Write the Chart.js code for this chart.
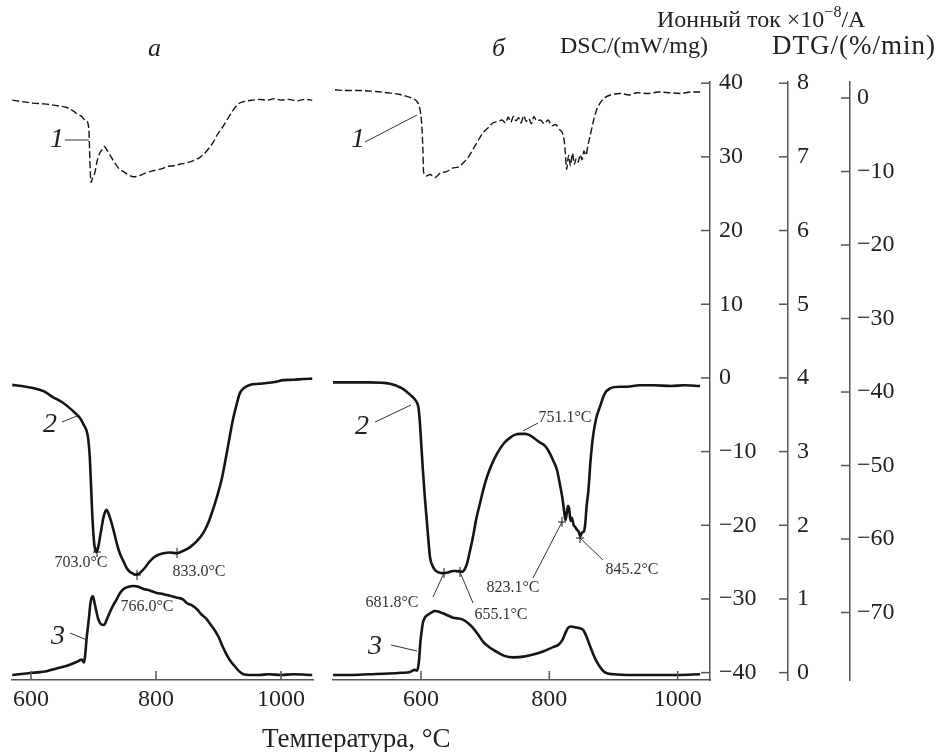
<!DOCTYPE html>
<html lang="ru">
<head>
<meta charset="utf-8">
<title>DSC / DTG / ионный ток</title>
<script src="https://cdn.jsdelivr.net/npm/chart.js@4.4.1/dist/chart.umd.min.js"></script>
<style>
body{margin:0;background:#fff;}
#wrap{position:relative;width:939px;height:752px;font-family:"Liberation Serif","DejaVu Serif",serif;color:#222;overflow:hidden;}
#wrap canvas{position:absolute;left:0;top:0;}
.lbl{position:absolute;white-space:nowrap;line-height:1;}
.it{font-style:italic;}
sup{font-size:16px;position:relative;top:-3px;vertical-align:top;}
</style>
</head>
<body>
<div id="wrap">
  <canvas id="panelA" width="939" height="752"></canvas>
  <canvas id="panelB" width="939" height="752"></canvas>

  <div class="lbl" style="left:657px;top:7px;font-size:24px;">Ионный ток ×10<sup>−8</sup>/A</div>
  <div class="lbl" style="right:231px;top:33px;font-size:24px;">DSC/(mW/mg)</div>
  <div class="lbl" style="right:3px;top:32px;font-size:27px;letter-spacing:1px;">DTG/(%/min)</div>
  <div class="lbl it" style="left:148px;top:35px;font-size:26px;">а</div>
  <div class="lbl it" style="left:492px;top:35px;font-size:26px;">б</div>
  <div class="lbl" style="left:262px;top:725px;font-size:27px;">Температура, °C</div>
</div>

<script>
// ---- ticks ----
var tickX = [600, 800, 1000];
var tickDsc = [-40, -30, -20, -10, 0, 10, 20, 30, 40];
var labelDsc = ['−40', '−30', '−20', '−10', '0', '10', '20', '30', '40'];
var tickIon = [0, 1, 2, 3, 4, 5, 6, 7, 8];
var labelIon = ['0', '1', '2', '3', '4', '5', '6', '7', '8'];
var tickDtg = [-70, -60, -50, -40, -30, -20, -10, 0];
var labelDtg = ['−70', '−60', '−50', '−40', '−30', '−20', '−10', '0'];

// ---- panel а ----
// 1 - ионный ток
var a1T = [570, 585, 603, 618, 630, 645, 657, 668, 676, 681, 686, 691, 693, 694, 696, 698, 702, 706, 710, 714,
           717, 721, 726, 731, 737, 742, 748, 755, 764, 772, 780, 790, 800, 810, 818, 828, 838, 850, 860, 870,
           878, 885, 891, 898, 907, 915, 924, 932, 940, 946, 955, 965, 978, 990, 1000, 1012, 1025, 1038, 1050];
var a1V = [7.77, 7.75, 7.73, 7.72, 7.71, 7.69, 7.67, 7.62, 7.57, 7.55, 7.50, 7.46, 7.30, 7.00, 6.65, 6.70, 6.78, 6.95, 7.05, 7.10,
           7.14, 7.10, 7.03, 6.96, 6.88, 6.83, 6.80, 6.76, 6.73, 6.74, 6.77, 6.80, 6.82, 6.84, 6.87, 6.88, 6.90, 6.92, 6.95, 6.99,
           7.05, 7.12, 7.19, 7.30, 7.41, 7.52, 7.64, 7.72, 7.75, 7.76, 7.77, 7.78, 7.77, 7.79, 7.77, 7.78, 7.76, 7.78, 7.77];
// 2 - DSC
var a2T = [570, 585, 603, 620, 635, 650, 662, 671, 678, 684, 690, 692, 694, 696, 698, 701, 703, 705, 708, 710,
           713, 716, 719, 721, 724, 729, 733, 737, 742, 748, 753, 758, 764, 769, 775, 782, 789, 796, 804, 812,
           822, 833, 843, 854, 865, 876, 884, 891, 898, 905, 911, 916, 920, 924, 929, 934, 942, 950, 965, 977,
           990, 1004, 1020, 1035, 1050];
var a2V = [-0.95, -1.1, -1.36, -1.8, -2.6, -3.3, -4.1, -4.8, -5.4, -6.3, -7.5, -8.6, -10.7, -14.5, -18.5, -22.4, -23.4, -23.6, -22.8, -21.8,
           -20.3, -18.9, -18.1, -17.9, -18.4, -19.7, -21.0, -22.4, -23.8, -24.9, -25.8, -26.3, -26.6, -26.7, -26.4, -25.8, -25.0, -24.4, -24.0, -23.8,
           -23.7, -23.8, -23.5, -23.0, -22.2, -21.0, -19.6, -17.9, -16.0, -13.8, -11.2, -8.9, -7.0, -5.3, -3.6, -2.1, -1.3, -0.95, -0.8, -0.7,
           -0.55, -0.3, -0.25, -0.15, -0.1];
// 3 - DTG
var a3T = [570, 603, 625, 641, 655, 668, 676, 681, 685, 687, 689, 691, 693, 695, 697, 699, 702, 705, 708, 712,
           717, 721, 726, 731, 737, 742, 748, 756, 764, 772, 780, 790, 800, 812, 825, 835, 843, 849, 857, 865,
           872, 880, 887, 893, 900, 907, 914, 920, 926, 932, 940, 950, 965, 980, 1000, 1020, 1050];
var a3V = [-78.5, -78.2, -78.0, -77.6, -77.3, -76.9, -76.6, -76.4, -76.8, -75.5, -73.5, -72.0, -70.5, -68.8, -68.0, -67.8, -68.8, -70.0, -71.0, -71.6,
           -71.7, -71.0, -70.0, -69.1, -68.2, -67.4, -66.8, -66.5, -66.4, -66.5, -66.8, -67.0, -67.3, -67.5, -67.8, -68.0, -68.2, -68.7, -69.0, -69.5,
           -70.2, -70.8, -71.6, -72.3, -73.3, -74.7, -75.9, -76.7, -77.3, -77.9, -78.4, -78.5, -78.5, -78.4, -78.5, -78.4, -78.5];

// ---- panel б ----
var b1T = [466, 485, 505, 525, 547, 565, 578, 588, 594, 598, 601, 603, 604, 608, 614, 622, 630, 640, 650, 658,
           666, 674, 681, 689, 697, 705, 712, 720, 726, 732, 736, 740, 744, 748, 752, 756, 760, 764, 768, 772,
           776, 780, 786, 792, 798, 804, 810, 816, 820, 823, 825, 827, 830, 833, 836, 839, 842, 845, 848, 851,
           854, 857, 860, 864, 868, 873, 879, 886, 895, 910, 925, 937, 955, 970, 988, 1005, 1020, 1035];
var b1V = [7.91, 7.90, 7.90, 7.89, 7.87, 7.85, 7.82, 7.79, 7.75, 7.66, 7.46, 7.10, 6.80, 6.74, 6.76, 6.72, 6.78, 6.80, 6.85, 6.86,
           6.92, 7.00, 7.10, 7.22, 7.33, 7.40, 7.46, 7.48, 7.50, 7.46, 7.54, 7.47, 7.55, 7.49, 7.53, 7.46, 7.56, 7.48, 7.52, 7.45,
           7.55, 7.49, 7.50, 7.45, 7.50, 7.42, 7.44, 7.37, 7.33, 7.23, 7.05, 6.83, 7.02, 6.88, 7.05, 6.90, 6.98, 6.93, 7.03, 6.96,
           7.08, 7.02, 7.15, 7.30, 7.46, 7.62, 7.73, 7.80, 7.84, 7.86, 7.84, 7.87, 7.86, 7.88, 7.87, 7.86, 7.88, 7.88];
var b2T = [463, 490, 520, 552, 570, 578, 586, 592, 596, 598, 600, 603, 606, 609, 612, 614, 618, 622, 628, 634,
           642, 650, 657, 664, 668, 672, 676, 681, 686, 692, 697, 703, 711, 719, 729, 739, 747, 754, 762, 770,
           778, 786, 793, 800, 806, 812, 816, 820, 823, 825, 827, 829, 831, 833, 835, 838, 840, 843, 846, 848,
           851, 854, 856, 858, 861, 864, 868, 873, 879, 886, 895, 910, 921, 940, 962, 990, 1010, 1035];
var b2V = [-0.6, -0.6, -0.6, -0.8, -1.4, -1.9, -2.5, -3.1, -4.0, -5.7, -8.4, -12.5, -16.2, -19.3, -22.5, -24.3, -25.5, -26.1, -26.4, -26.5,
           -26.4, -26.2, -26.2, -26.3, -26.0, -25.1, -23.6, -21.6, -19.2, -17.0, -15.2, -13.4, -11.6, -10.2, -8.9, -8.1, -7.7, -7.6, -7.6, -7.8,
           -8.3, -8.8, -9.2, -10.1, -11.2, -12.5, -14.2, -16.1, -18.0, -19.3, -18.5, -17.4, -17.8, -19.4, -19.0, -20.0, -20.2, -20.6, -20.9, -21.5,
           -21.0, -20.8, -19.8, -17.5, -15.2, -11.5, -8.0, -5.5, -3.9, -2.2, -1.4, -1.2, -1.2, -1.0, -1.0, -1.1, -1.0, -1.1];
var b3T = [463, 490, 520, 550, 570, 583, 590, 594, 597, 599, 601, 603, 606, 611, 616, 622, 628, 634, 642, 650,
           658, 666, 674, 681, 689, 697, 706, 719, 730, 744, 760, 775, 790, 806, 814, 820, 825, 829, 834, 840,
           846, 853, 858, 864, 871, 879, 886, 900, 930, 962, 1000, 1035];
var b3V = [-78.5, -78.5, -78.4, -78.3, -78.2, -78.1, -77.8, -77.9, -76.5, -74.1, -72.6, -71.4, -70.7, -70.3, -70.0, -69.8, -69.9, -70.1, -70.4, -70.7,
           -70.8, -71.0, -71.5, -72.1, -73.0, -74.0, -74.7, -75.4, -75.9, -76.1, -76.0, -75.7, -75.3, -74.7, -74.4, -73.8, -72.8, -72.1, -71.9, -72.0,
           -72.1, -72.4, -73.3, -74.7, -76.2, -77.4, -78.1, -78.4, -78.5, -78.5, -78.5, -78.4];

var ink = '#151515';
var axisColor = '#555';
var textColor = '#222';
var tickFont = {family: 'Liberation Serif', size: 24};

function pts(xs, ys) {
  return xs.map(function(x, i) { return {x: x, y: ys[i]}; });
}

function curve(xs, ys, axis, dashed) {
  return {
    data: pts(xs, ys),
    yAxisID: axis,
    borderColor: ink,
    borderWidth: dashed ? 1.4 : 2.6,
    borderDash: dashed ? [7, 3] : [],
    pointRadius: 0,
    fill: false,
    cubicInterpolationMode: 'monotone'
  };
}

function yAxis(ticks, labels, weight, min, max, width, show, pad) {
  return {
    type: 'linear', position: 'right', weight: weight, min: min, max: max, display: show,
    afterBuildTicks: function(s) { s.ticks = ticks.map(function(v) { return {value: v}; }); },
    afterFit: function(s) { s.width = show ? width : 0; },
    grid: {display: false, drawTicks: false},
    border: {display: true, color: axisColor, width: 1.5},
    ticks: {padding: pad, color: textColor, font: tickFont,
            callback: function(v) { return labels[ticks.indexOf(v)]; }}
  };
}

function xAxis(min, max) {
  return {
    type: 'linear', position: 'bottom', min: min, max: max,
    afterBuildTicks: function(s) { s.ticks = tickX.map(function(v) { return {value: v}; }); },
    afterFit: function(s) { s.height = 72; },
    grid: {display: false, drawTicks: false},
    border: {display: true, color: axisColor, width: 1.5},
    ticks: {padding: 5, color: textColor, font: tickFont, maxRotation: 0, autoSkip: false,
            callback: function(v) { return String(v); }}
  };
}

// short tick marks drawn on the inner side of each axis line
var inwardTicks = {
  id: 'inwardTicks',
  afterDraw: function(chart) {
    var ctx = chart.ctx;
    ctx.save();
    ctx.strokeStyle = axisColor;
    ctx.lineWidth = 1.5;
    Object.keys(chart.scales).forEach(function(k) {
      var s = chart.scales[k];
      if (!s.options.display) return;
      s.ticks.forEach(function(t) {
        var p = s.getPixelForValue(t.value);
        ctx.beginPath();
        if (s.isHorizontal()) { ctx.moveTo(p, s.top); ctx.lineTo(p, s.top - 9); }
        else { ctx.moveTo(s.left - 9, p); ctx.lineTo(s.left, p); }
        ctx.stroke();
      });
    });
    ctx.restore();
  }
};

// curve numbers, peak temperatures and their leader lines
var notes = {
  id: 'notes',
  afterDatasetsDraw: function(chart, args, opts) {
    var ctx = chart.ctx;
    ctx.save();
    ctx.strokeStyle = '#333';
    ctx.lineWidth = 1;
    (opts.lines || []).forEach(function(l) {
      ctx.beginPath(); ctx.moveTo(l[0], l[1]); ctx.lineTo(l[2], l[3]); ctx.stroke();
    });
    // small crosses on the DSC curve
    ctx.strokeStyle = ink;
    (opts.marks || []).forEach(function(m) {
      ctx.beginPath();
      ctx.moveTo(m[0] - 4, m[1]); ctx.lineTo(m[0] + 4, m[1]);
      ctx.moveTo(m[0], m[1] - 5); ctx.lineTo(m[0], m[1] + 5);
      ctx.stroke();
    });
    ctx.textAlign = 'center';
    ctx.textBaseline = 'middle';
    (opts.texts || []).forEach(function(t) {
      ctx.font = t.big ? 'italic 28px "Liberation Serif"' : '16px "Liberation Serif"';
      ctx.fillStyle = t.big ? '#222' : '#333';
      ctx.fillText(t.s, t.x, t.y);
    });
    ctx.restore();
  }
};

function options(pad, xMin, xMax, show, note) {
  return {
    responsive: false,
    animation: false,
    devicePixelRatio: 1,
    layout: {padding: pad},
    plugins: {legend: {display: false}, tooltip: {enabled: false}, notes: note},
    scales: {
      x: xAxis(xMin, xMax),
      yDsc: yAxis(tickDsc, labelDsc, 1, -41, 40.16, 78, show, 9),
      yIon: yAxis(tickIon, labelIon, 2, -0.1, 8.016, 62, show, 9),
      yDtg: yAxis(tickDtg, labelDtg, 3, -79.18, 2.18, 89, show, 7)
    }
  };
}

new Chart(document.getElementById('panelA'), {
  type: 'line',
  data: {datasets: [
    curve(a1T, a1V, 'yIon', true),
    curve(a2T, a2V, 'yDsc', false),
    curve(a3T, a3V, 'yDtg', false)
  ]},
  options: options({left: 12, right: 626, top: 82, bottom: 0}, 569.6, 1051.2, false, {
    lines: [[65, 140, 89, 140], [62, 422, 77, 416], [70, 633, 87, 640]],
    marks: [[97, 552], [137, 575], [177, 553]],
    texts: [{s: '1', x: 57, y: 140, big: true}, {s: '2', x: 50, y: 425, big: true}, {s: '3', x: 58, y: 637, big: true},
            {s: '703.0°C', x: 81, y: 563}, {s: '833.0°C', x: 199, y: 572}, {s: '766.0°C', x: 147, y: 607}]
  }),
  plugins: [inwardTicks, notes]
});

new Chart(document.getElementById('panelB'), {
  type: 'line',
  data: {datasets: [
    curve(b1T, b1V, 'yIon', true),
    curve(b2T, b2V, 'yDsc', false),
    curve(b3T, b3V, 'yDtg', false)
  ]},
  options: options({left: 333, right: 0, top: 82, bottom: 0}, 462.9, 1050.4, true, {
    lines: [[365, 142, 417, 115], [375, 422, 411, 405], [391, 645, 417, 651],
            [523, 431, 538, 423], [433, 597, 444, 573], [473, 603, 460, 572],
            [533, 578, 562, 522], [603, 560, 580, 538]],
    marks: [[444, 573], [460, 572], [562, 522], [580, 538]],
    texts: [{s: '1', x: 358, y: 140, big: true}, {s: '2', x: 362, y: 427, big: true}, {s: '3', x: 375, y: 647, big: true},
            {s: '751.1°C', x: 565, y: 418}, {s: '681.8°C', x: 392, y: 603}, {s: '655.1°C', x: 501, y: 615},
            {s: '823.1°C', x: 513, y: 588}, {s: '845.2°C', x: 632, y: 570}]
  }),
  plugins: [inwardTicks, notes]
});
</script>
</body>
</html>
